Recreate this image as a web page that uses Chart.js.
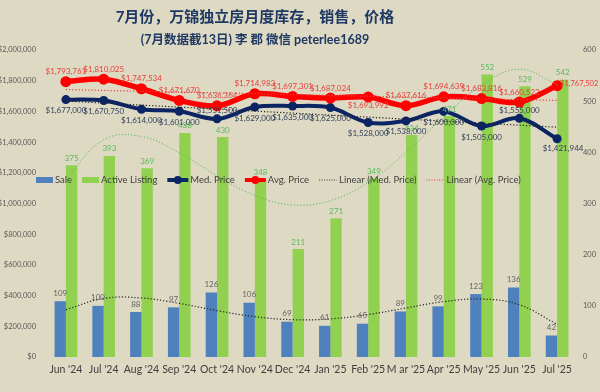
<!DOCTYPE html>
<html>
<head>
<meta charset="utf-8">
<script src="https://cdn.jsdelivr.net/npm/chart.js@4.4.0/dist/chart.umd.min.js"></script>
<style>
  html, body { margin: 0; padding: 0; background: #ddd9c3; }
</style>
</head>
<body>
<canvas id="salesChart" width="600" height="392"></canvas>
<script>
const months = ["Jun '24", "Jul '24", "Aug '24", "Sep '24", "Oct '24", "Nov '24", "Dec '24",
                "Jan '25", "Feb '25", "M ar '25", "Apr '25", "May '25", "Jun '25", "Jul '25"];
const sales = [109, 100, 88, 97, 126, 106, 69, 61, 65, 89, 99, 123, 136, 42];
const listings = [375, 393, 369, 438, 430, 348, 211, 271, 349, 434, 471, 552, 529, 542];
const medPrice = [1677000, 1670750, 1614000, 1601000, 1551500, 1629000, 1635000,
                  1625000, 1528000, 1538000, 1600000, 1505000, 1555000, 1421944];
const avgPrice = [1793761, 1810025, 1747534, 1671670, 1636364, 1714983, 1697301,
                  1687024, 1693992, 1637616, 1694639, 1683816, 1660522, 1767502];

const titleText = '7月份，万锦独立房月度库存，销售，价格';
const subtitleText = '(7月数据截13日) 李 郡 微信 peterlee1689';

const FONT = 'Lato, "Noto Sans", "Noto Sans CJK SC", sans-serif';

// least squares polynomial trend (like Excel trendlines)
function trendLine(ys, degree) {
    const xs = ys.map((_, i) => i - (ys.length - 1) / 2);
    const m = degree + 1;
    const A = [];
    for (let r = 0; r < m; r++) {
        const row = [];
        for (let c = 0; c < m; c++) row.push(xs.reduce((s, x) => s + Math.pow(x, r + c), 0));
        row.push(xs.reduce((s, x, i) => s + Math.pow(x, r) * ys[i], 0));
        A.push(row);
    }
    for (let p = 0; p < m; p++) {
        let best = p;
        for (let r = p + 1; r < m; r++) if (Math.abs(A[r][p]) > Math.abs(A[best][p])) best = r;
        [A[p], A[best]] = [A[best], A[p]];
        for (let r = 0; r < m; r++) {
            if (r === p) continue;
            const f = A[r][p] / A[p][p];
            for (let c = p; c <= m; c++) A[r][c] -= f * A[p][c];
        }
    }
    const coef = A.map((row, i) => row[m] / row[i]);
    return xs.map(x => coef.reduce((s, c, k) => s + c * Math.pow(x, k), 0));
}

const money = v => '$' + Math.round(v).toLocaleString('en-US');

// label placement: 1 = above, -1 = below, 2 = right
const avgLabelSide = [1, 1, 1, 1, 1, 1, 1, 1, -1, 1, 1, 1, 1, 2];
const medLabelSide = [-1, -1, -1, -1, 1, -1, -1, -1, -1, -1, -1, -1, 1, -1];

const backgroundPlugin = {
    id: 'background',
    beforeDraw(chart) {
        const ctx = chart.ctx;
        ctx.save();
        ctx.fillStyle = '#ddd9c3';
        ctx.fillRect(0, 0, chart.width, chart.height);
        ctx.restore();
    },
    afterDraw(chart) {
        const ctx = chart.ctx;
        ctx.save();
        ctx.fillStyle = '#1f3864';
        ctx.textAlign = 'center';
        ctx.textBaseline = 'middle';
        ctx.font = 'bold 15px ' + FONT;
        ctx.fillText(titleText, 255, 17);
        ctx.font = 'bold 12.5px ' + FONT;
        ctx.fillText(subtitleText, 255, 40);
        ctx.restore();
    }
};

const valueLabels = {
    id: 'valueLabels',
    afterDatasetsDraw(chart) {
        const ctx = chart.ctx;
        ctx.save();
        ctx.font = '8px ' + FONT;
        ctx.textAlign = 'center';
        ctx.textBaseline = 'middle';

        chart.getDatasetMeta(0).data.forEach((el, i) => {
            ctx.fillStyle = '#666666';
            ctx.fillText(sales[i], el.x, el.y - 8);
        });
        chart.getDatasetMeta(1).data.forEach((el, i) => {
            ctx.fillStyle = '#5cb85c';
            ctx.fillText(listings[i], el.x, el.y - 7);
        });
        chart.getDatasetMeta(2).data.forEach((el, i) => {
            ctx.fillStyle = '#33425e';
            const side = medLabelSide[i];
            if (i === medPrice.length - 1) {
                ctx.fillText(money(medPrice[i]), el.x + 6, el.y + 10);
            } else {
                ctx.fillText(money(medPrice[i]), el.x, el.y + (side > 0 ? -8 : 11));
            }
        });
        chart.getDatasetMeta(3).data.forEach((el, i) => {
            ctx.fillStyle = '#e8413c';
            const side = avgLabelSide[i];
            if (side === 2) {
                ctx.save();
                ctx.textAlign = 'left';
                ctx.font = '7.5px ' + FONT;
                ctx.fillText(money(avgPrice[i]), el.x + 3, el.y - 2);
                ctx.restore();
            } else {
                ctx.fillText(money(avgPrice[i]), el.x, el.y + (side > 0 ? -10 : 8));
            }
        });
        ctx.restore();
    }
};

const legendItems = [
    { text: 'Sale', kind: 'box', color: '#4f81bd' },
    { text: 'Active Listing', kind: 'box', color: '#92d050' },
    { text: 'Med. Price', kind: 'line', color: '#0b2463' },
    { text: 'Avg. Price', kind: 'line', color: '#ff0000' },
    { text: 'Linear (Med. Price)', kind: 'dots', color: '#333333' },
    { text: 'Linear (Avg. Price)', kind: 'dots', color: '#e8413c' }
];

const customLegend = {
    id: 'customLegend',
    afterDraw(chart) {
        const ctx = chart.ctx;
        ctx.save();
        ctx.font = '9.5px ' + FONT;
        ctx.textBaseline = 'middle';
        let x = 36;
        const y = 180;
        legendItems.forEach(item => {
            const w = item.kind === 'box' ? 17 : item.kind === 'line' ? 21 : 18;
            if (item.kind === 'box') {
                ctx.fillStyle = item.color;
                ctx.fillRect(x, y - 3, w, 6);
            } else if (item.kind === 'line') {
                ctx.strokeStyle = item.color;
                ctx.lineWidth = 4;
                ctx.beginPath();
                ctx.moveTo(x, y);
                ctx.lineTo(x + w, y);
                ctx.stroke();
                ctx.fillStyle = item.color;
                ctx.beginPath();
                ctx.arc(x + w / 2, y, 4, 0, Math.PI * 2);
                ctx.fill();
            } else {
                ctx.strokeStyle = item.color;
                ctx.lineWidth = 1;
                ctx.setLineDash([1, 1.5]);
                ctx.beginPath();
                ctx.moveTo(x, y);
                ctx.lineTo(x + w, y);
                ctx.stroke();
                ctx.setLineDash([]);
            }
            ctx.fillStyle = '#404040';
            ctx.fillText(item.text, x + w + 2, y);
            x += w + 2 + ctx.measureText(item.text).width + 10;
        });
        ctx.restore();
    }
};

const ctx = document.getElementById('salesChart').getContext('2d');

new Chart(ctx, {
    type: 'bar',
    data: {
        labels: months,
        datasets: [
            {
                label: 'Sale',
                data: sales,
                backgroundColor: '#4f81bd',
                yAxisID: 'y1',
                order: 10,
                categoryPercentage: 0.6,
                barPercentage: 1
            },
            {
                label: 'Active Listing',
                data: listings,
                backgroundColor: '#92d050',
                yAxisID: 'y1',
                order: 10,
                categoryPercentage: 0.6,
                barPercentage: 1
            },
            {
                type: 'line',
                label: 'Med. Price',
                data: medPrice,
                borderColor: '#0b2463',
                backgroundColor: '#0b2463',
                borderWidth: 4,
                pointRadius: 4.5,
                pointBorderWidth: 0,
                tension: 0.35,
                yAxisID: 'y',
                order: 3
            },
            {
                type: 'line',
                label: 'Avg. Price',
                data: avgPrice,
                borderColor: '#ff0000',
                backgroundColor: '#ff0000',
                borderWidth: 5.5,
                pointRadius: 5.5,
                pointBorderWidth: 0,
                tension: 0.35,
                yAxisID: 'y',
                order: 2
            },
            {
                type: 'line',
                label: 'Linear (Med. Price)',
                data: trendLine(medPrice, 1),
                borderColor: '#222222',
                borderWidth: 1.2,
                borderDash: [1.2, 2],
                pointRadius: 0,
                yAxisID: 'y',
                order: 1
            },
            {
                type: 'line',
                label: 'Linear (Avg. Price)',
                data: trendLine(avgPrice, 1),
                borderColor: '#e8413c',
                borderWidth: 1.2,
                borderDash: [1.2, 2],
                pointRadius: 0,
                yAxisID: 'y',
                order: 1
            },
            {
                type: 'line',
                label: 'Poly. (Sale)',
                data: trendLine(sales, 4),
                borderColor: '#222222',
                borderWidth: 1.2,
                borderDash: [1.2, 2],
                pointRadius: 0,
                tension: 0.4,
                yAxisID: 'y1',
                order: 1
            },
            {
                type: 'line',
                label: 'Poly. (Active Listing)',
                data: trendLine(listings, 4),
                borderColor: '#5cb85c',
                borderWidth: 1,
                borderDash: [1.2, 2],
                pointRadius: 0,
                tension: 0.4,
                yAxisID: 'y1',
                order: 1
            }
        ]
    },
    options: {
        responsive: false,
        animation: false,
        devicePixelRatio: 1,
        layout: { padding: { top: 50, left: 0, right: 0, bottom: 0 } },
        plugins: {
            legend: { display: false },
            title: { display: false },
            tooltip: { enabled: false }
        },
        scales: {
            x: {
                grid: { display: false, drawTicks: false },
                border: { display: false },
                ticks: { color: '#404040', font: { family: FONT, size: 10.5 }, padding: 6, maxRotation: 0, autoSkip: false },
                afterFit(scale) { scale.height = 35; }
            },
            y: {
                position: 'left',
                min: 0,
                max: 2000000,
                grid: { display: false, drawTicks: false },
                border: { display: false },
                ticks: {
                    stepSize: 200000,
                    color: '#595959',
                    font: { family: FONT, size: 7.5 },
                    padding: 11,
                    callback: v => money(v)
                },
                afterFit(scale) { scale.width = 47; }
            },
            y1: {
                position: 'right',
                min: 0,
                max: 600,
                grid: { display: false, drawTicks: false },
                border: { display: false },
                ticks: { stepSize: 100, color: '#595959', font: { family: FONT, size: 7.5 }, padding: 7 },
                afterFit(scale) { scale.width = 24; }
            }
        }
    },
    plugins: [backgroundPlugin, valueLabels, customLegend]
});
</script>
</body>
</html>
